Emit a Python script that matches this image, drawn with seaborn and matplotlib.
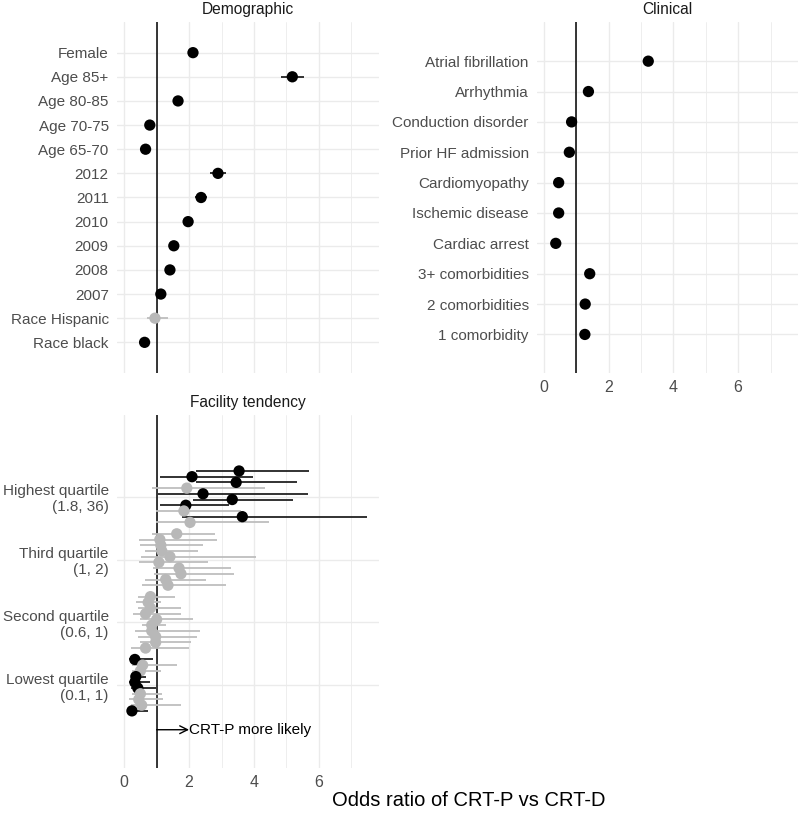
import numpy as np
import pandas as pd
import matplotlib
matplotlib.use("Agg")
import matplotlib.pyplot as plt
import seaborn as sns

# Demographic panel (top to bottom)
demo_labels = ["Female", "Age 85+", "Age 80-85", "Age 70-75", "Age 65-70", "2012", "2011",
               "2010", "2009", "2008", "2007", "Race Hispanic", "Race black"]
demo_or = [2.12, 5.18, 1.66, 0.79, 0.66, 2.89, 2.37, 1.97, 1.53, 1.41, 1.13, 0.95, 0.63]
demo_lo = [2.05, 4.84, 1.60, 0.75, 0.62, 2.65, 2.18, 1.90, 1.47, 1.35, 1.07, 0.69, 0.58]
demo_hi = [2.19, 5.55, 1.72, 0.83, 0.70, 3.14, 2.55, 2.04, 1.59, 1.47, 1.19, 1.35, 0.68]

# Clinical panel (top to bottom)
clin_labels = ["Atrial fibrillation", "Arrhythmia", "Conduction disorder", "Prior HF admission",
               "Cardiomyopathy", "Ischemic disease", "Cardiac arrest", "3+ comorbidities",
               "2 comorbidities", "1 comorbidity"]
clin_or = [3.22, 1.37, 0.85, 0.78, 0.45, 0.45, 0.36, 1.41, 1.27, 1.26]
clin_lo = [3.12, 1.31, 0.80, 0.73, 0.41, 0.42, 0.32, 1.34, 1.21, 1.20]
clin_hi = [3.32, 1.43, 0.90, 0.83, 0.49, 0.48, 0.40, 1.48, 1.33, 1.32]

# Facility tendency: 10 facilities per quartile, listed top to bottom
fac_quartiles = ["Highest quartile\n(1.8, 36)", "Third quartile\n(1, 2)",
                 "Second quartile\n(0.6, 1)", "Lowest quartile\n(0.1, 1)"]
fac_or = [3.54, 2.09, 3.45, 1.93, 2.43, 3.33, 1.90, 1.84, 3.64, 2.03,
          1.62, 1.10, 1.13, 1.16, 1.41, 1.07, 1.69, 1.75, 1.28, 1.35,
          0.81, 0.74, 0.81, 0.66, 1.00, 0.85, 0.85, 0.97, 0.97, 0.66,
          0.33, 0.57, 0.50, 0.36, 0.33, 0.42, 0.50, 0.45, 0.54, 0.24]
fac_lo = [2.21, 1.10, 2.21, 0.85, 1.04, 2.12, 1.10, 0.98, 1.78, 0.98,
          0.85, 0.45, 0.48, 0.63, 0.51, 0.45, 0.88, 0.91, 0.63, 0.54,
          0.43, 0.38, 0.42, 0.26, 0.48, 0.54, 0.32, 0.42, 0.48, 0.20,
          0.14, 0.23, 0.23, 0.23, 0.14, 0.20, 0.23, 0.14, 0.20, 0.11]
fac_hi = [5.68, 3.98, 5.31, 4.35, 5.65, 5.19, 3.24, 3.61, 7.48, 4.47,
          2.79, 2.86, 2.43, 2.27, 4.07, 2.58, 3.30, 3.39, 2.52, 3.14,
          1.57, 1.13, 1.75, 1.75, 2.12, 1.29, 2.35, 2.24, 2.06, 1.99,
          0.88, 1.63, 1.13, 0.67, 0.79, 0.97, 1.16, 1.19, 1.75, 0.73]

W, H = 800, 813
XLIM = (-0.22, 7.85)
GRID = "#EBEBEB"
TXT = "#4D4D4D"

sns.set_theme(style="white")
plt.rcParams["font.family"] = ["Liberation Sans", "DejaVu Sans"]


def make_df(odds, lo, hi, ypos):
    df = pd.DataFrame({"or": odds, "lo": lo, "hi": hi, "y": ypos})
    df["sig"] = np.where((df["lo"] > 1) | (df["hi"] < 1), "yes", "no")
    return df


def panel(fig, box, df, title, yticks, yticklabels, ylim, xlabels=True):
    l, r, t, b = box
    ax = fig.add_axes([l / W, 1 - b / H, (r - l) / W, (b - t) / H])
    ax.set_xlim(*XLIM)
    ax.set_ylim(*ylim)
    for x in [1, 3, 5, 7]:
        ax.axvline(x, color=GRID, lw=0.6, zorder=0)
    for x in [0, 2, 4, 6]:
        ax.axvline(x, color=GRID, lw=1.0, zorder=0)
    for y in yticks:
        ax.axhline(y, color=GRID, lw=1.0, zorder=0)
    ax.axvline(1, color="black", lw=1.1, zorder=1)
    cols = {"yes": "black", "no": "#B8B8B8"}
    lcols = {"yes": "#222222", "no": "#BEBEBE"}
    for sig in ["no", "yes"]:
        d = df[df["sig"] == sig]
        ax.hlines(d["y"], d["lo"], d["hi"], color=lcols[sig], lw=1.3, zorder=2)
    sns.scatterplot(data=df, x="or", y="y", hue="sig", palette=cols, s=66,
                    edgecolor="none", legend=False, ax=ax, zorder=3)
    ax.set_xlabel("")
    ax.set_ylabel("")
    ax.set_yticks(yticks)
    ax.set_yticklabels(yticklabels, color=TXT, fontsize=11)
    ax.set_xticks([0, 2, 4, 6])
    if xlabels:
        ax.set_xticklabels(["0", "2", "4", "6"], color=TXT, fontsize=11.5)
    else:
        ax.set_xticklabels([])
    ax.tick_params(axis="y", length=0, pad=6)
    ax.tick_params(axis="x", length=0, pad=5)
    ax.grid(False)
    for s in ax.spines.values():
        s.set_visible(False)
    ax.set_title(title, fontsize=11.2, color="#1A1A1A", pad=6)
    return ax


fig = plt.figure(figsize=(W / 100, H / 100), dpi=100)

n = len(demo_labels)
demo_y = list(range(n, 0, -1))
panel(fig, (117, 379, 22, 373), make_df(demo_or, demo_lo, demo_hi, demo_y), "Demographic",
      demo_y, demo_labels, (-0.27, n + 1.27), xlabels=False)

m = len(clin_labels)
clin_y = list(range(m, 0, -1))
panel(fig, (537, 798, 22, 373), make_df(clin_or, clin_lo, clin_hi, clin_y), "Clinical",
      clin_y, clin_labels, (1 - 1.27, m + 1.29))

# quartile groups spaced 11 apart, 10 facilities each
fac_y = [(3 - k // 10) * 11 + (9 - k % 10) for k in range(len(fac_or))]
fac_centers = [(3 - g) * 11 + 4.5 for g in range(4)]
ax3 = panel(fig, (117, 379, 415, 768), make_df(fac_or, fac_lo, fac_hi, fac_y), "Facility tendency",
            fac_centers, fac_quartiles, (-10, 51.8))
ax3.annotate("", xy=(2.0, -3.3), xytext=(1, -3.3),
             arrowprops=dict(arrowstyle="->", color="black", lw=1.0, mutation_scale=14,
                             shrinkA=0, shrinkB=0))
ax3.text(2.0, -3.3, "CRT-P more likely", ha="left", va="center", fontsize=11, color="black")

fig.text(469 / W, 1 - 800 / H, "Odds ratio of CRT-P vs CRT-D", ha="center", va="center",
         fontsize=14.5, color="black")

fig.savefig("out.png", dpi=100, facecolor="white")
